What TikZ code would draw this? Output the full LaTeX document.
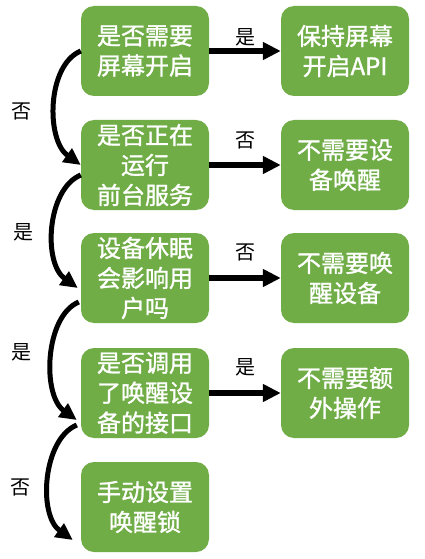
\documentclass[tikz,border=0pt]{standalone}
\usepackage{fontspec}
\setmainfont{Noto Sans CJK SC}
\newfontfamily\boxfont[FakeBold=1.2]{Noto Sans CJK SC}
\usetikzlibrary{arrows.meta,calc}
\definecolor{boxgreen}{HTML}{70AD47}
\begin{document}
\begin{tikzpicture}[x=1pt,y=-1pt,
  gbox/.style={fill=boxgreen,rounded corners=13pt,minimum width=128pt,minimum height=90pt,
    inner sep=0pt,text=white,align=center,font=\boxfont\fontsize{24}{30}\selectfont},
  lab/.style={font=\fontsize{20}{22}\selectfont,text=black,inner sep=0pt},
  conn/.style={line width=5.5pt,-{Triangle[length=18pt,width=17pt]}},
  curvearrow/.style={line width=5pt,-{Triangle[length=17pt,width=16pt]}}]
\useasboundingbox (0,0) rectangle (425,559);
\node[gbox] (q1) at (145,51) {是否需要\\屏幕开启};
\node[gbox] (q2) at (145,165) {是否正在\\运行\\前台服务};
\node[gbox] (q3) at (145,278) {设备休眠\\会影响用\\户吗};
\node[gbox] (q4) at (145,393) {是否调用\\了唤醒设\\备的接口};
\node[gbox] (q5) at (145,507) {手动设置\\唤醒锁};
\node[gbox] (r1) at (345,51) {保持屏幕\\开启API};
\node[gbox] (r2) at (345,165) {不需要设\\备唤醒};
\node[gbox] (r3) at (345,278) {不需要唤\\醒设备};
\node[gbox] (r4) at (345,393) {不需要额\\外操作};
\node[lab] (l1) at (22,111) {否};
\node[lab] (l2) at (23,232) {是};
\node[lab] (l3) at (22,352) {是};
\node[lab] (l4) at (20,487) {否};
\node[lab] (m1) at (245,37) {是};
\node[lab] (m2) at (245,140) {否};
\node[lab] (m3) at (245,252) {否};
\node[lab] (m4) at (245,367) {是};
\draw[conn] (q1.east) -- (r1.west);
\draw[conn] (q2.east) -- (r2.west);
\draw[conn] (q3.east) -- (r3.west);
\draw[conn] (q4.east) -- (r4.west);
\draw[curvearrow] (q1.west) .. controls +(-34,14) and +(-35,-25) .. ($(q2.west)+(0,0)$);
\draw[curvearrow] ($(q2.west)+(0,10)$) .. controls +(-34,14) and +(-35,-25) .. ($(q3.west)+(-3,10)$);
\draw[curvearrow] ($(q3.west)+(-2,24)$) .. controls +(-34,14) and +(-35,-25) .. ($(q4.west)+(-4,27)$);
\draw[curvearrow] ($(q4.west)+(-4,32)$) .. controls +(-34,14) and +(-35,-25) .. ($(q5.west)+(-8,33)$);
\end{tikzpicture}
\end{document}
